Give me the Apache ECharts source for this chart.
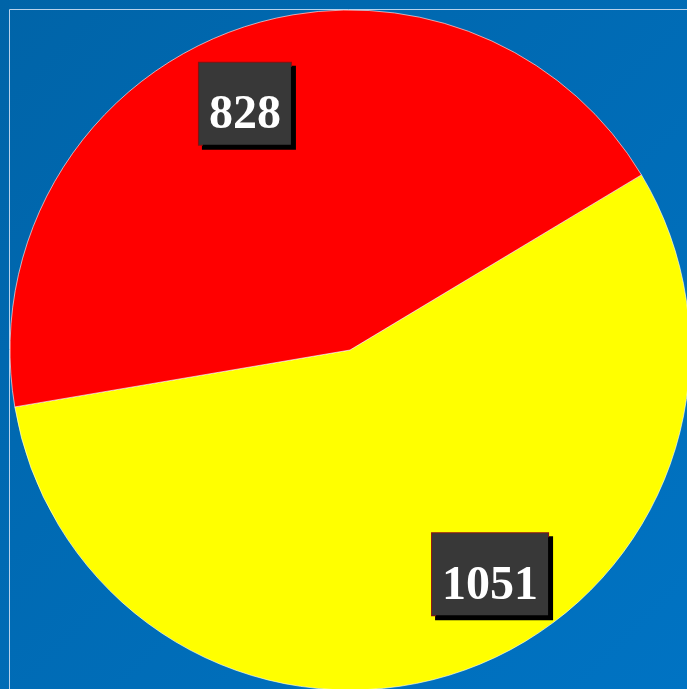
<!DOCTYPE html>
<html><head><meta charset="utf-8">
<script src="https://cdn.jsdelivr.net/npm/echarts@6/dist/echarts.min.js"></script>
<style>html,body{margin:0;padding:0;}#c{width:687px;height:689px;}</style>
</head><body><div id="c"></div>
<script>
const categories = ['Yellow', 'Red'];
const values = [1051, 828];
const colors = ['#ffff00', '#ff0000'];
const labelShift = [[80, 62], [-45, -84]];

const chart = echarts.init(document.getElementById('c'));
const fontFam = '"Liberation Serif", "DejaVu Serif", serif';
chart.setOption({
  backgroundColor: new echarts.graphic.LinearGradient(0, 0, 1, 1, [
    {offset: 0, color: '#0064a8'}, {offset: 1, color: '#0073c3'}
  ]),
  graphic: [{
    type: 'polyline', silent: true, z: 10,
    shape: {points: [[9.5, 689], [9.5, 9.5], [687, 9.5]]},
    style: {stroke: '#b8d2ec', lineWidth: 1, fill: null}
  }],
  series: [{
    type: 'pie',
    center: [350, 350],
    radius: [0, 340],
    startAngle: 31,
    clockwise: true,
    animation: false,
    silent: true,
    itemStyle: {borderColor: 'rgba(255,255,255,0.6)', borderWidth: 1},
    label: {
      show: true, position: 'inside',
      formatter: '{s| }\n{v|{c}}',
      color: '#ffffff',
      fontFamily: fontFam,
      fontWeight: 'bold', fontSize: 48,
      backgroundColor: '#383838',
      borderColor: '#8a1010', borderWidth: 1,
      padding: [5, 10, 5, 10],
      shadowColor: '#000000', shadowOffsetX: 4, shadowOffsetY: 4, shadowBlur: 0,
      rich: {
        s: {fontSize: 10, lineHeight: 24, height: 24},
        v: {color: '#ffffff', fontFamily: fontFam, fontWeight: 'bold', fontSize: 48, lineHeight: 48}
      }
    },
    labelLine: {show: false},
    labelLayout: function (p) { return {dx: labelShift[p.dataIndex][0], dy: labelShift[p.dataIndex][1]}; },
    data: categories.map((n, i) => ({name: n, value: values[i], itemStyle: {color: colors[i]}}))
  }]
});
</script></body></html>
